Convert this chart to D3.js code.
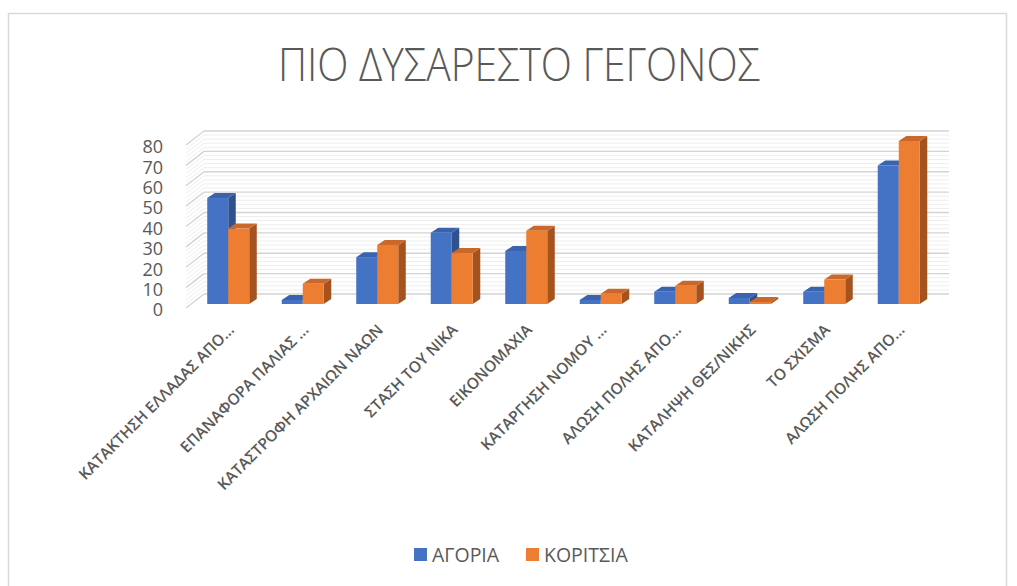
<!DOCTYPE html>
<html>
<head>
<meta charset="utf-8">
<script src="https://cdn.jsdelivr.net/npm/d3@7"></script>
<style>
  body { margin: 0; background: #fff; }
  svg { display: block; }
</style>
</head>
<body>
<svg id="chart" width="1017" height="586"></svg>
<script>
// data
const categories = [
    "ΚΑΤΑΚΤΗΣΗ ΕΛΛΑΔΑΣ ΑΠΟ...",
    "ΕΠΑΝΑΦΟΡΑ ΠΑΛΙΑΣ ...",
    "ΚΑΤΑΣΤΡΟΦΗ  ΑΡΧΑΙΩΝ ΝΑΩΝ",
    "ΣΤΑΣΗ ΤΟΥ ΝΙΚΑ",
    "ΕΙΚΟΝΟΜΑΧΙΑ",
    "ΚΑΤΑΡΓΗΣΗ ΝΟΜΟΥ ...",
    "ΑΛΩΣΗ ΠΟΛΗΣ ΑΠΟ...",
    "ΚΑΤΑΛΗΨΗ  ΘΕΣ/ΝΙΚΗΣ",
    "ΤΟ ΣΧΙΣΜΑ",
    "ΑΛΩΣΗ ΠΟΛΗΣ ΑΠΟ..."
];
const boys = [52, 2, 23, 35, 26, 2, 6, 3, 6, 68];
const girls = [37, 10, 29, 25, 36, 5, 9, 1, 12, 80];
const seriesNames = ["ΑΓΟΡΙΑ", "ΚΟΡΙΤΣΙΑ"];
const yTicks = [0, 10, 20, 30, 40, 50, 60, 70, 80];

const svg = d3.select("#chart");
const textColor = "#595959";
const colors = [
    { front: "#4472c4", top: "#3a63ad", side: "#2f5190" },
    { front: "#ed7d31", top: "#c9682a", side: "#a4531f" }
];

// chart frame
svg.append("path")
    .attr("d", "M8.5,600 V13.5 H1006.5 V600")
    .attr("fill", "none")
    .attr("stroke", "#d9d9d9")
    .attr("stroke-width", 1.5);

svg.append("text")
    .attr("x", 519)
    .attr("y", 81)
    .attr("text-anchor", "middle")
    .attr("font-family", "'Open Sans', sans-serif")
    .attr("font-weight", 300)
    .attr("font-size", 46)
    .attr("fill", textColor)
    .attr("textLength", 482)
    .attr("lengthAdjust", "spacingAndGlyphs")
    .text("ΠΙΟ ΔΥΣΑΡΕΣΤΟ ΓΕΓΟΝΟΣ");

// depth of the 3d box and of the bars
const depth = { dx: 18, dy: -14 };
const barShift = { dx: 5, dy: -4 };
const barDepth = { dx: 7.5, dy: -5 };

// categories repeat, so the band scale works on indices
const x0 = d3.scaleBand()
    .domain(d3.range(categories.length))
    .range([186, 931])
    .paddingInner(0.436)
    .paddingOuter(0.218);
const x1 = d3.scaleBand()
    .domain([0, 1])
    .range([0, x0.bandwidth()]);
const y = d3.scaleLinear()
    .domain([0, 80])
    .range([308, 145]);

const backLeft = 186 + depth.dx;
const backRight = 931 + depth.dx;

// walls: fine stripes and major gridlines
const grid = svg.append("g");
const minor = d3.range(0, 81, 2);
grid.selectAll(".minor-back")
    .data(minor)
    .enter().append("line")
    .attr("x1", backLeft)
    .attr("x2", backRight)
    .attr("y1", d => y(d) + depth.dy)
    .attr("y2", d => y(d) + depth.dy)
    .attr("stroke", d => d % 10 === 0 ? "#d3d3d3" : "#eeeeee")
    .attr("stroke-width", d => d % 10 === 0 ? 1.3 : 1);
grid.selectAll(".minor-side")
    .data(minor)
    .enter().append("line")
    .attr("x1", 186)
    .attr("x2", backLeft)
    .attr("y1", d => y(d))
    .attr("y2", d => y(d) + depth.dy)
    .attr("stroke", d => d % 10 === 0 ? "#d3d3d3" : "#eeeeee")
    .attr("stroke-width", d => d % 10 === 0 ? 1.3 : 1);

// y labels
svg.append("g")
    .selectAll("text")
    .data(yTicks)
    .enter().append("text")
    .attr("x", 163)
    .attr("y", d => y(d) + 2)
    .attr("dy", "0.35em")
    .attr("text-anchor", "end")
    .attr("font-family", "'Open Sans', sans-serif")
    .attr("font-size", 18)
    .attr("fill", textColor)
    .text(d => d);

// bars
const rows = categories.map((c, i) => ({ i: i, values: [boys[i], girls[i]] }));
const groups = svg.append("g")
    .selectAll("g")
    .data(rows)
    .enter().append("g")
    .attr("transform", d => "translate(" + (x0(d.i) + barShift.dx) + "," + barShift.dy + ")");

groups.selectAll("g")
    .data(d => d.values.map((v, k) => ({ k: k, v: v })))
    .enter().append("g")
    .each(function(d) {
        let g = d3.select(this);
        let bx = x1(d.k), w = x1.bandwidth();
        let top = y(d.v), base = y(0);
        let c = colors[d.k];
        g.append("path")
            .attr("d", "M" + (bx + w) + "," + base + " L" + (bx + w + barDepth.dx) + "," + (base + barDepth.dy) +
                " L" + (bx + w + barDepth.dx) + "," + (top + barDepth.dy) + " L" + (bx + w) + "," + top + "Z")
            .attr("fill", c.side);
        g.append("path")
            .attr("d", "M" + bx + "," + top + " L" + (bx + barDepth.dx) + "," + (top + barDepth.dy) +
                " L" + (bx + w + barDepth.dx) + "," + (top + barDepth.dy) + " L" + (bx + w) + "," + top + "Z")
            .attr("fill", c.top);
        g.append("rect")
            .attr("x", bx)
            .attr("y", top)
            .attr("width", w)
            .attr("height", base - top)
            .attr("fill", c.front);
    });

// category labels
svg.append("g")
    .selectAll("text")
    .data(categories)
    .enter().append("text")
    .attr("transform", (d, i) => "translate(" + (x0(i) + x0.bandwidth() / 2 + barShift.dx + 3) + ",327) rotate(-45)")
    .attr("dy", "0.35em")
    .attr("text-anchor", "end")
    .attr("font-family", "'Open Sans', sans-serif")
    .attr("font-weight", 600)
    .attr("font-size", 15.5)
    .attr("fill", textColor)
    .text(d => d);

// legend
const legendX = [414, 526];
const legend = svg.append("g")
    .selectAll("g")
    .data(seriesNames)
    .enter().append("g")
    .attr("transform", (d, i) => "translate(" + legendX[i] + ",548)");
legend.append("rect")
    .attr("width", 13)
    .attr("height", 13)
    .attr("fill", (d, i) => colors[i].front);
legend.append("text")
    .attr("x", 18)
    .attr("y", 13.5)
    .attr("font-family", "'Open Sans', sans-serif")
    .attr("font-size", 19.5)
    .attr("fill", textColor)
    .text(d => d);
</script>
</body>
</html>
